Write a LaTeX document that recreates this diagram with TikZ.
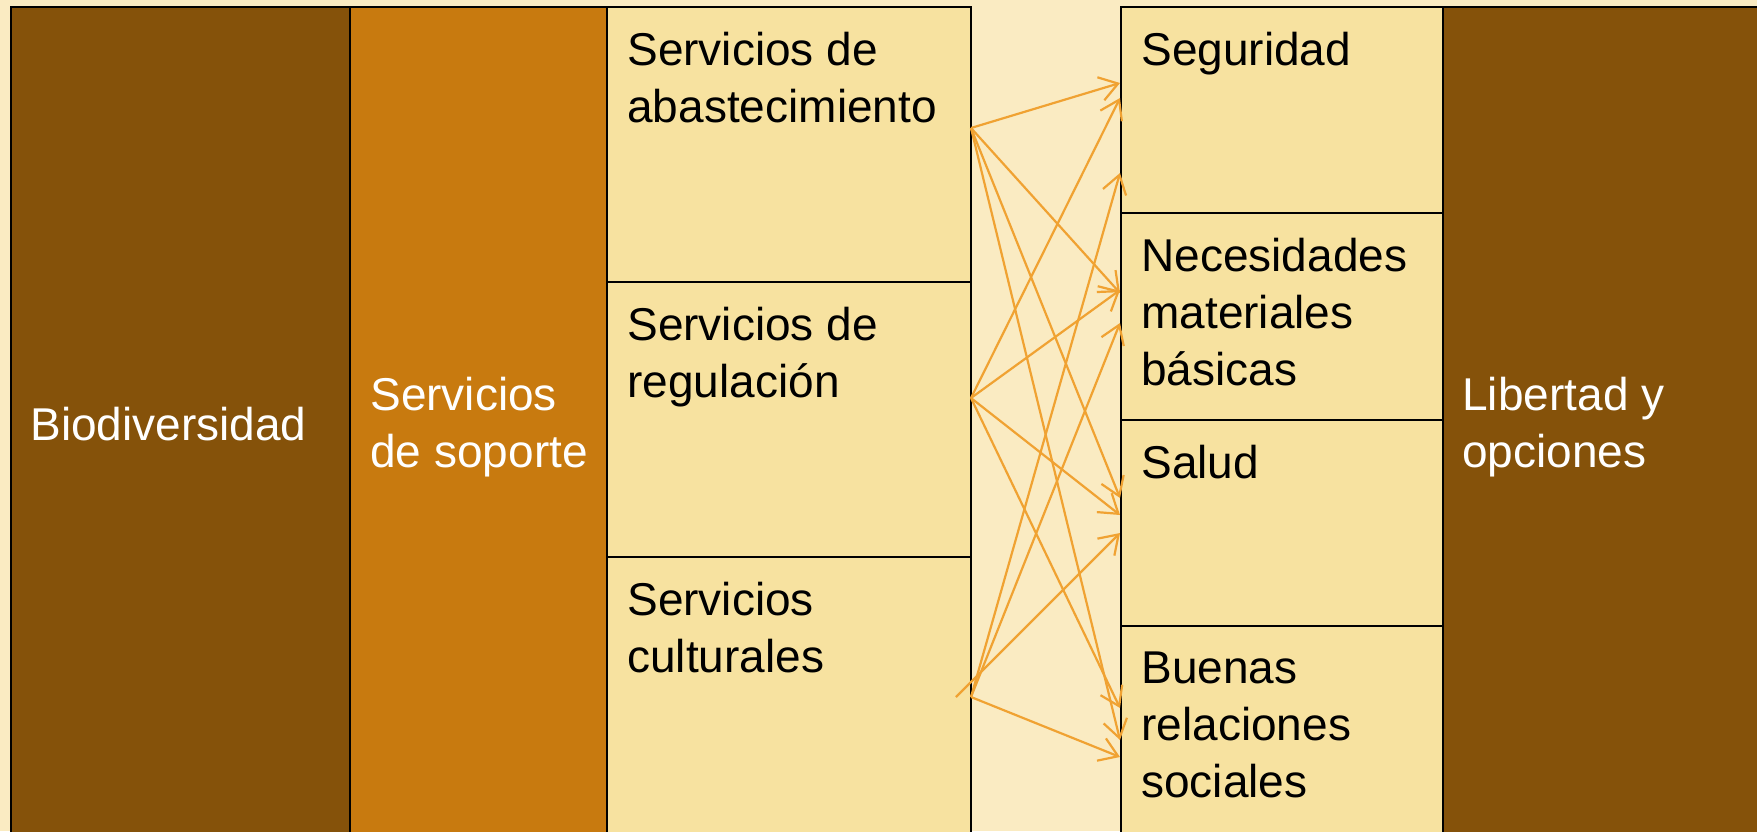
\documentclass[tikz,border=0pt]{standalone}
\usepackage{fontspec}
\setmainfont{Liberation Sans}
\usetikzlibrary{arrows.meta,calc}
\definecolor{paper}{HTML}{FAEBC2}
\definecolor{bark}{HTML}{85520A}
\definecolor{ochre}{HTML}{C87A0F}
\definecolor{straw}{HTML}{F7E2A0}
\definecolor{amber}{HTML}{F0A232}
\begin{document}
\begin{tikzpicture} [
        x=0.5pt, y=-0.5pt,
        cell/.style={draw, rectangle, line width=1.3pt, anchor=north west, inner sep=0pt, outer sep=0pt},
        txt/.style={anchor=north west, align=left, inner sep=0pt, font=\fontsize{23}{28.5}\selectfont},
        arr/.style={draw=amber, line width=1.1pt, -{Straight Barb[length=9pt,width=12pt]}} ]
    \fill[paper] (0,0) rectangle (1757,831);
    \useasboundingbox (0,0) rectangle (1757,831);
    % columns
    \node[cell, fill=bark, minimum width=169.5pt, minimum height=419pt] (bio) at (11,7) {};
    \node[cell, fill=ochre, minimum width=128.5pt, minimum height=419pt] (sop) at (bio.north east) {};
    \node[cell, fill=straw, minimum width=182pt, minimum height=137.5pt] (abas) at (sop.north east) {};
    \node[cell, fill=straw, minimum width=182pt, minimum height=137.5pt] (reg) at (abas.south west) {};
    \node[cell, fill=straw, minimum width=182pt, minimum height=144pt] (cult) at (reg.south west) {};
    \node[cell, fill=straw, minimum width=161pt, minimum height=103pt] (seg) at (1121,7) {};
    \node[cell, fill=straw, minimum width=161pt, minimum height=103.5pt] (nec) at (seg.south west) {};
    \node[cell, fill=straw, minimum width=161pt, minimum height=103pt] (sal) at (nec.south west) {};
    \node[cell, fill=straw, minimum width=161pt, minimum height=109.5pt] (bue) at (sal.south west) {};
    \node[cell, fill=bark, minimum width=163.5pt, minimum height=419pt] (lib) at (seg.north east) {};
    % labels
    \node[txt, anchor=west, text=white] (biot) at (30,424) {Biodiversidad};
    \node[txt, text=white] (sopt) at (370,377) {Servicios\\de soporte};
    \node[txt] (abast) at ($(abas.north west)+(20,25)$) {Servicios de\\abastecimiento};
    \node[txt] (regt) at ($(reg.north west)+(20,25)$) {Servicios de\\regulación};
    \node[txt] (cultt) at ($(cult.north west)+(20,25)$) {Servicios\\culturales};
    \node[txt] (segt) at ($(seg.north west)+(20,25)$) {Seguridad};
    \node[txt] (nect) at ($(nec.north west)+(20,25)$) {Necesidades\\materiales\\básicas};
    \node[txt] (salt) at ($(sal.north west)+(20,25)$) {Salud};
    \node[txt] (buet) at ($(bue.north west)+(20,25)$) {Buenas\\relaciones\\sociales};
    \node[txt, text=white] (libt) at (1462,377) {Libertad y\\opciones};
    % links
    \coordinate (s1) at (971,128);
    \coordinate (s2) at (971,398);
    \coordinate (s3) at (971,697);
    \coordinate (s3b) at (956,697);
    \foreach \n/\y in {t1/83, t2/98, t3/173, t4/290, t5/293, t6/323,
                       t7/498, t8/515, t9/533, t10/708, t11/740, t12/757}
        \coordinate (\n) at (1120,\y);
    \foreach \s/\t in {s1/t1, s1/t5, s1/t7, s1/t11, s2/t2, s2/t4, s2/t8, s2/t10,
                       s3/t3, s3/t6, s3b/t9, s3/t12}
        \draw[arr] (\s) -- (\t);
\end{tikzpicture}
\end{document}
